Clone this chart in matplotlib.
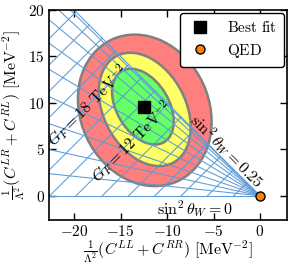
import numpy as np
import matplotlib
matplotlib.use("Agg")
import matplotlib.pyplot as plt
from matplotlib.patches import Ellipse

plt.rcParams['mathtext.fontset'] = 'cm'
plt.rcParams['font.family'] = ['DejaVu Serif']
plt.rcParams['font.size'] = 10

# ---- data ----
sin2_values = [0.0, 0.025, 0.05, 0.075, 0.1, 0.125, 0.15, 0.175, 0.2, 0.225, 0.25]
gf_values = [2, 4, 6, 8, 10, 12, 14, 16, 18, 20, 22, 24, 26, 28, 30, 32, 34]  # TeV^-2
gf_scale = np.sqrt(2.0)
best_fit = (-12.5, 9.6)
qed = (0.0, 0.0)
ellipse_centers = [(-12.4, 9.2), (-12.4, 9.3), (-12.6, 9.6)]
ellipse_semi_major = [8.4, 6.5, 4.45]
ellipse_semi_minor = [6.9, 4.4, 2.8]
ellipse_angles = [115.0, 118.0, 121.0]
ellipse_colors = ['#ff7f7f', '#ffff66', '#66ff66']
xticks = [-20, -15, -10, -5, 0]
yticks = [0, 5, 10, 15, 20]


def sm_point(gf, s2):
    gl = -0.5 + s2
    gr = s2
    a = gf_scale * gf
    return -4 * a * (gl ** 2 + gr ** 2), -8 * a * gl * gr


fig = plt.figure(figsize=(2.97, 2.68), dpi=100)
ax = fig.add_axes([49 / 297, 1 - 220 / 268, 238 / 297, 210 / 268])

# confidence ellipses
for cen, A, B, ang, c in zip(ellipse_centers, ellipse_semi_major, ellipse_semi_minor,
                             ellipse_angles, ellipse_colors):
    ax.add_patch(Ellipse(cen, 2 * A, 2 * B, angle=ang,
                         facecolor=c, edgecolor='#808080', lw=1.8, zorder=1))

gcol = '#5b9bd5'
s_fine = np.linspace(0, 0.25, 60)
gmax = max(gf_values)
# rays of constant sin^2 theta_W
for s2 in sin2_values:
    x1, y1 = sm_point(gmax, s2)
    ax.plot([0, x1], [0, y1], color=gcol, lw=0.75, zorder=2)
# lines of constant G_F
for gf in gf_values:
    pts = np.array([sm_point(gf, s) for s in s_fine])
    ax.plot(pts[:, 0], pts[:, 1], color=gcol, lw=0.75, zorder=2)

ax.plot(*best_fit, 's', color='black', ms=8.5, zorder=5, label=r'$\mathrm{Best\ fit}$')
ax.plot(*qed, 'o', color='#ff7f0e', mec='black', mew=1.0, ms=6.5, zorder=6,
        clip_on=False, label=r'$\mathrm{QED}$')

ax.text(-18.5, 9.7, r'$G_F = 18\ \mathrm{TeV}^{-2}$', rotation=45,
        ha='center', va='center', fontsize=11.5, zorder=7)
ax.text(-13.8, 5.8, r'$G_F = 12\ \mathrm{TeV}^{-2}$', rotation=45,
        ha='center', va='center', fontsize=11.5, zorder=7)
ax.text(-3.6, 4.8, r'$\sin^2\theta_W = 0.25$', rotation=-45,
        ha='center', va='center', fontsize=11.5, zorder=7)
ax.text(-7.0, -1.45, r'$\sin^2\theta_W = 0$', ha='center', va='center',
        fontsize=11.5, zorder=7)

ax.set_xlim(-22.7, 2.9)
ax.set_ylim(-2.6, 20)
ax.set_xticks(xticks)
ax.set_xticklabels([r'$%d$' % v for v in xticks])
ax.set_yticks(yticks)
ax.set_yticklabels([r'$%d$' % v for v in yticks])
ax.tick_params(direction='in', top=True, right=True, length=5, width=1,
               labelsize=11, pad=3)
for sp in ax.spines.values():
    sp.set_linewidth(1.2)

ax.set_xlabel(r'$\frac{1}{\Lambda^2}(C^{LL}+C^{RR})\ [\mathrm{MeV}^{-2}]$', fontsize=11.5, labelpad=0)
ax.set_ylabel(r'$\frac{1}{\Lambda^2}(C^{LR}+C^{RL})\ [\mathrm{MeV}^{-2}]$', fontsize=11.5, labelpad=0)

leg = ax.legend(loc='upper right', fontsize=11, framealpha=1, edgecolor='black',
                fancybox=True, borderaxespad=0.2, handletextpad=0.85, handlelength=1.8,
                borderpad=0.45, labelspacing=0.45)
leg.get_frame().set_linewidth(1.0)
leg.set_zorder(10)

fig.savefig('out.png', dpi=100)
